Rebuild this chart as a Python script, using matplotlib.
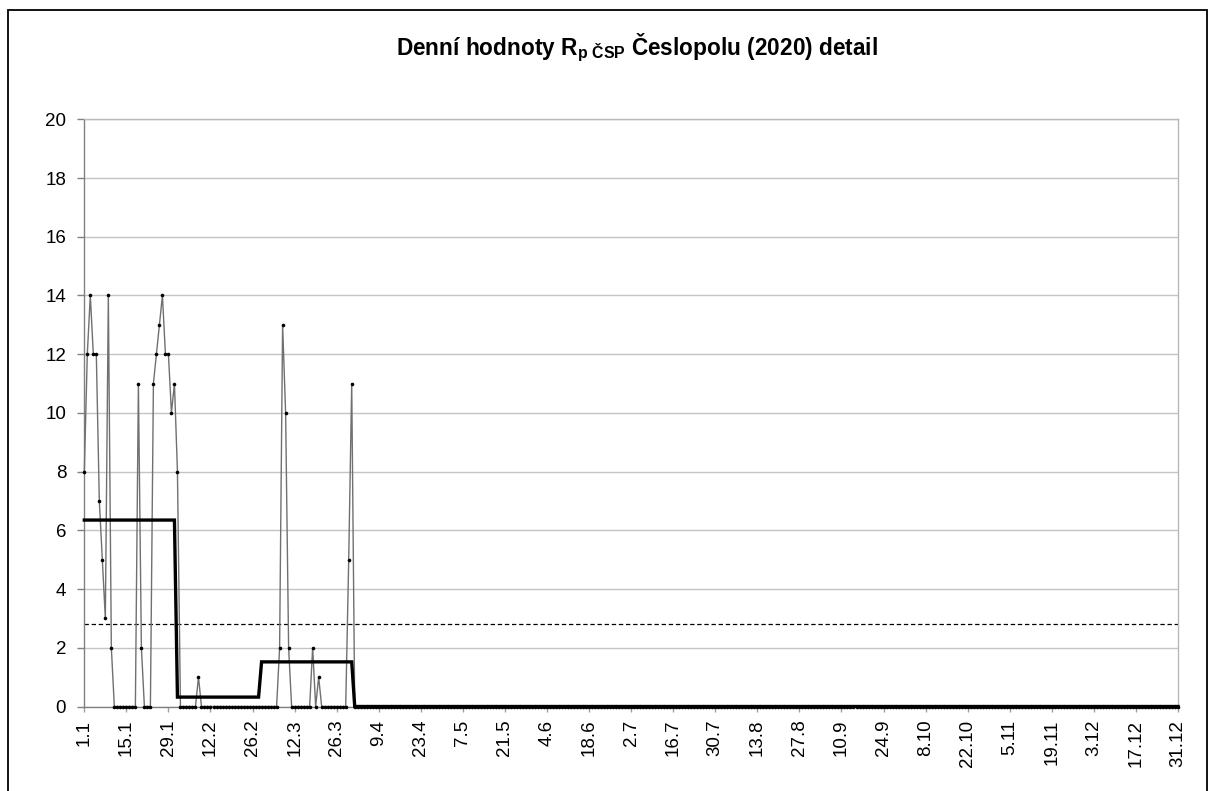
import numpy as np
import matplotlib
matplotlib.use("Agg")
import matplotlib.pyplot as plt
from matplotlib.patches import Rectangle

plt.rcParams['font.family'] = ['Liberation Sans', 'DejaVu Sans']
plt.rcParams['mathtext.fontset'] = 'custom'
plt.rcParams['mathtext.rm'] = 'Liberation Sans:bold'
plt.rcParams['mathtext.it'] = 'Liberation Sans:bold'
plt.rcParams['mathtext.bf'] = 'Liberation Sans:bold'

# ---- data ----
jan_values = [8, 12, 14, 12, 12, 7, 5, 3, 14, 2, 0, 0, 0, 0, 0, 0, 0, 0, 11, 2,
              0, 0, 0, 11, 12, 13, 14, 12, 12, 10, 11]
feb_values = [8, 0, 0, 0, 0, 0, 0, 1, 0, 0, 0, 0, 0, 0, 0, 0, 0, 0, 0, 0,
              0, 0, 0, 0, 0, 0, 0, 0]
mar_values = [0, 0, 0, 0, 0, 0, 2, 13, 10, 2, 0, 0, 0, 0, 0, 0, 0, 2, 0, 1,
              0, 0, 0, 0, 0, 0, 0, 0, 0, 5, 11]
rest_values = [0] * 275          # 1.4 – 31.12: all zero
daily_values = jan_values + feb_values + mar_values + rest_values

days_in_month = [31, 28, 31, 30, 31, 30, 31, 31, 30, 31, 30, 31]
monthly_means = [6.35, 0.32, 1.52, 0, 0, 0, 0, 0, 0, 0, 0, 0]
threshold = 2.8

tick_labels = ['1.1', '15.1', '29.1', '12.2', '26.2', '12.3', '26.3', '9.4',
               '23.4', '7.5', '21.5', '4.6', '18.6', '2.7', '16.7', '30.7',
               '13.8', '27.8', '10.9', '24.9', '8.10', '22.10', '5.11',
               '19.11', '3.12', '17.12', '31.12']

title = "Denní hodnoty R$_{\\mathrm{p\\ ČSP}}$ Česlopolu (2020) detail"

# ---- figure ----
W, H = 1210, 791
fig = plt.figure(figsize=(W / 100, H / 100), dpi=100)
fig.patch.set_facecolor('white')

# outer frame
fig.patches.append(Rectangle((8 / W, -0.02), (1207 - 8) / W, 1 - 10 / H + 0.02,
                             transform=fig.transFigure, fill=False,
                             edgecolor='black', linewidth=1.3, zorder=0))

ax_l, ax_r = 84.3 / W, 1178 / W
ax_b, ax_t = 1 - 706.5 / H, 1 - 119.3 / H
ax = fig.add_axes([ax_l, ax_b, ax_r - ax_l, ax_t - ax_b])

n = len(daily_values)
x = np.arange(n)
mean_series = np.repeat(monthly_means, days_in_month)

ax.set_xlim(0, n - 1)
ax.set_ylim(0, 20)

ax.yaxis.grid(True, color='#c4c4c4', linewidth=1.0)
ax.set_axisbelow(True)

ax.plot(x, daily_values, color='#707070', linewidth=1.0, zorder=3, clip_on=False)
ax.plot(x, daily_values, linestyle='none', marker='o', markersize=2.6,
        color='black', markeredgewidth=0, zorder=4, clip_on=False)
ax.plot(x, mean_series, color='black', linewidth=2.4, zorder=5, clip_on=False,
        solid_joinstyle='miter')
ax.axhline(threshold, color='black', linewidth=0.9, dashes=(3.5, 2.2), zorder=2)

ax.set_yticks(np.arange(0, 21, 2))
ax.set_xticks(np.arange(0, n, 14))
ax.set_xticklabels(tick_labels, rotation=90)

ax.tick_params(axis='y', direction='out', length=5, width=1, color='#808080',
               labelsize=13.5, pad=8, labelcolor='black')
ax.tick_params(axis='x', direction='out', length=3.5, width=1, color='#a0a0a0',
               labelsize=13.5, pad=6, labelcolor='black')

ax.spines['left'].set_color('#808080')
ax.spines['bottom'].set_color('#808080')
ax.spines['top'].set_color('#b8b8b8')
ax.spines['right'].set_color('#b8b8b8')
for s in ax.spines.values():
    s.set_linewidth(1.0)

fig.text(636.5 / W, 1 - 48 / H, title, ha='center', va='center',
         fontsize=16.3, fontweight='bold', color='black')

fig.savefig('out.png', dpi=100, facecolor='white')
